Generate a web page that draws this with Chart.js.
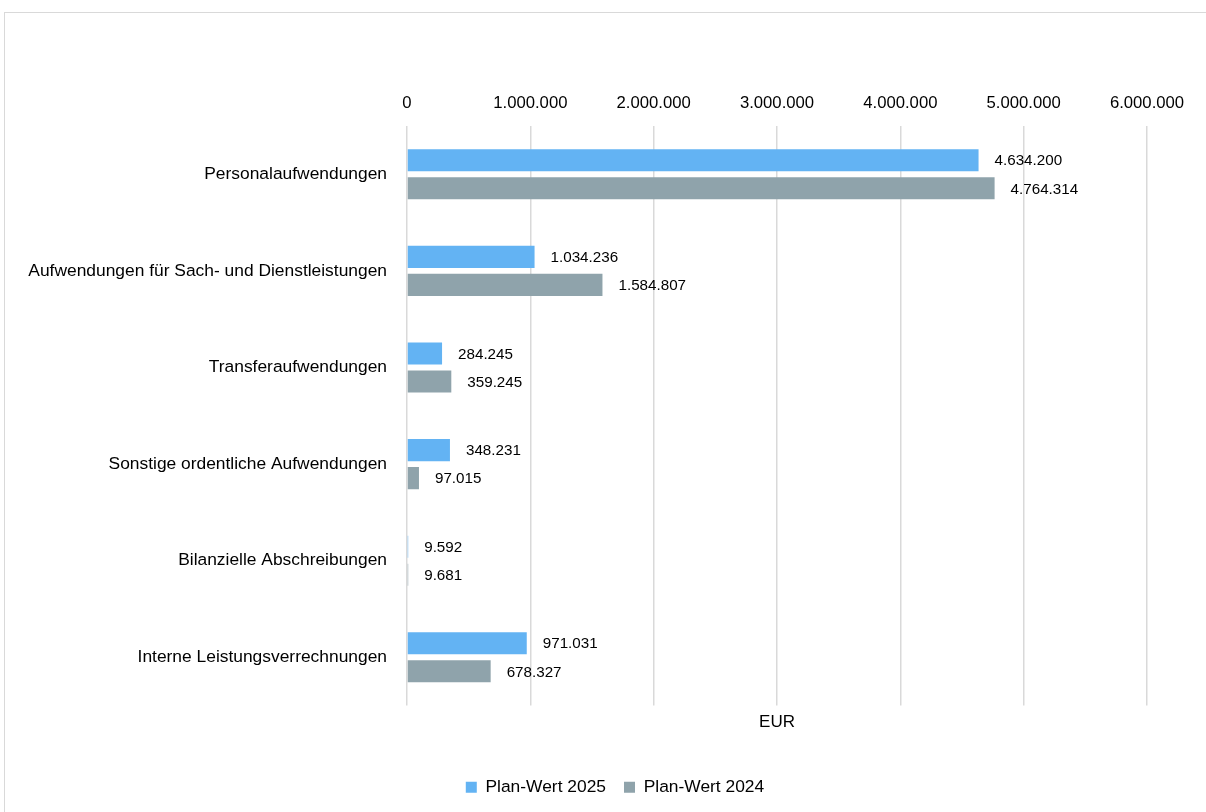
<!DOCTYPE html>
<html>
<head>
<meta charset="utf-8">
<script src="https://cdn.jsdelivr.net/npm/chart.js@4/dist/chart.umd.min.js"></script>
<style>
    html, body { margin: 0; padding: 0; background: #fff; overflow: hidden; }
    #frame {
        position: absolute; left: 4px; top: 12px;
        width: 1220px; height: 820px;
        border: 1px solid #d9d9d9;
    }
    #wrap { position: absolute; left: 4px; top: 0; width: 1222px; height: 812px; }
</style>
</head>
<body>
<div id="frame"></div>
<div id="wrap"><canvas id="aufwandChart" width="1222" height="812"></canvas></div>
<script>
// Kategorien und Planwerte (EUR)
var categories = [
    'Personalaufwendungen',
    'Aufwendungen für Sach- und Dienstleistungen',
    'Transferaufwendungen',
    'Sonstige ordentliche Aufwendungen',
    'Bilanzielle Abschreibungen',
    'Interne Leistungsverrechnungen'
];
var plan2025 = [4634200, 1034236, 284245, 348231, 9592, 971031];
var plan2024 = [4764314, 1584807, 359245, 97015, 9681, 678327];
var seriesNames = ['Plan-Wert 2025', 'Plan-Wert 2024'];
var axisMax = 6000000;
var axisStep = 1000000;
var axisTitle = 'EUR';

var fontFamily = "'Liberation Sans', Arial, sans-serif";

function formatDe(v) {
    return String(Math.round(v)).replace(/\B(?=(\d{3})+(?!\d))/g, '.');
}

// Werte rechts neben die Balken schreiben, plus Achsentitel unter der Fläche
var valueLabels = {
    id: 'valueLabels',
    afterDatasetsDraw: function(chart) {
        var ctx = chart.ctx;
        ctx.save();
        ctx.font = '15.2px ' + fontFamily;
        ctx.fillStyle = '#000';
        ctx.textAlign = 'left';
        ctx.textBaseline = 'middle';
        chart.data.datasets.forEach(function(ds, i) {
            chart.getDatasetMeta(i).data.forEach(function(bar, j) {
                ctx.fillText(formatDe(ds.data[j]), bar.x + 16, bar.y + 1);
            });
        });
        var area = chart.chartArea;
        ctx.font = '17px ' + fontFamily;
        ctx.textAlign = 'center';
        ctx.fillText(axisTitle, (area.left + area.right) / 2, area.bottom + 17);
        ctx.restore();
    }
};

// unsichtbare Achsen, die nur Platz reservieren
function spacerAxis(axis, position, size) {
    return {
        type: 'linear',
        axis: axis,
        position: position,
        ticks: { display: false },
        grid: { display: false },
        border: { display: false },
        afterFit: function(scale) {
            if (axis === 'x') scale.height = size; else scale.width = size;
        }
    };
}

var ctx = document.getElementById('aufwandChart').getContext('2d');
var aufwandChart = new Chart(ctx, {
    type: 'bar',
    data: {
        labels: categories,
        datasets: [{
            label: seriesNames[0],
            data: plan2025,
            xAxisID: 'x',
            yAxisID: 'y',
            backgroundColor: '#63b3f3',
            categoryPercentage: 0.58,
            barPercentage: 0.79
        }, {
            label: seriesNames[1],
            data: plan2024,
            xAxisID: 'x',
            yAxisID: 'y',
            backgroundColor: '#8fa3ab',
            categoryPercentage: 0.58,
            barPercentage: 0.79
        }]
    },
    options: {
        indexAxis: 'y',
        responsive: false,
        animation: false,
        layout: { padding: { top: 0, right: 0, bottom: 6, left: 0 } },
        scales: {
            x: {
                position: 'top',
                min: 0,
                max: axisMax,
                ticks: {
                    stepSize: axisStep,
                    color: '#000',
                    padding: 13,
                    font: { family: fontFamily, size: 16.7 },
                    callback: function(v) { return formatDe(v); }
                },
                grid: { color: '#d9d9d9', lineWidth: 1.5, drawTicks: false },
                border: { display: false },
                afterFit: function(scale) { scale.height = 126; }
            },
            y: {
                ticks: {
                    color: '#000',
                    padding: 12,
                    font: { family: fontFamily, size: 17.4 }
                },
                grid: { display: false },
                border: { display: false },
                afterFit: function(scale) { scale.width = 403; }
            },
            spacerBottom: spacerAxis('x', 'bottom', 55),
            spacerRight: spacerAxis('y', 'right', 79)
        },
        plugins: {
            legend: {
                position: 'bottom',
                labels: {
                    color: '#000',
                    boxWidth: 11,
                    boxHeight: 11,
                    padding: 18,
                    font: { family: fontFamily, size: 17.4 }
                }
            },
            tooltip: { enabled: false }
        }
    },
    plugins: [valueLabels]
});
</script>
</body>
</html>
